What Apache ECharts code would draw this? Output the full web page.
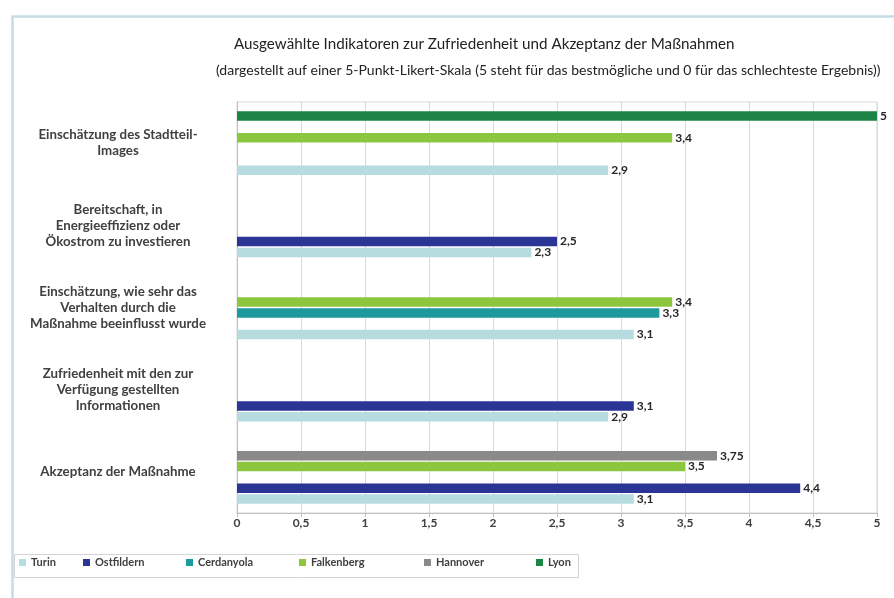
<!DOCTYPE html>
<html>
<head>
<meta charset="utf-8">
<script src="https://cdn.jsdelivr.net/npm/echarts@6/dist/echarts.min.js"></script>
<style>
  html, body { margin: 0; padding: 0; background: #fff; }
  #chart { width: 894px; height: 598px; }
</style>
</head>
<body>
<div id="chart"></div>
<script>
// Kategorien (von oben nach unten)
var categories = [
  'Einschätzung des Stadtteil-\nImages',
  'Bereitschaft, in\nEnergieeffizienz oder\nÖkostrom zu investieren',
  'Einschätzung, wie sehr das\nVerhalten durch die\nMaßnahme beeinflusst wurde',
  'Zufriedenheit mit den zur\nVerfügung gestellten\nInformationen',
  'Akzeptanz der Maßnahme'
]
var xTicks = [0, 0.5, 1, 1.5, 2, 2.5, 3, 3.5, 4, 4.5, 5]

var turin = [2.9, 2.3, 3.1, 2.9, 3.1]
var ostfildern = [null, 2.5, null, 3.1, 4.4]
var cerdanyola = [null, null, 3.3, null, null]
var falkenberg = [3.4, null, 3.4, null, 3.5]
var hannover = [null, null, null, null, 3.75]
var lyon = [5, null, null, null, null]

var seriesNames = ['Turin', 'Ostfildern', 'Cerdanyola', 'Falkenberg', 'Hannover', 'Lyon']
var seriesData = [turin, ostfildern, cerdanyola, falkenberg, hannover, lyon]
var colors = ['#b7dcdf', '#2b3596', '#1f9a9c', '#8cc63f', '#8a8a8a', '#1c8444']
var legendLeft = [19, 83, 186, 299, 424, 536]

function fmt (v) {
  return String(v).replace('.', ',')
}

var chart = echarts.init(document.getElementById('chart'))

// bei inverser y-Achse liegt die erste Reihe oben -> Lyon zuerst
var series = []
for (var i = seriesNames.length - 1; i >= 0; i--) {
  series.push({
    name: seriesNames[i],
    type: 'bar',
    data: seriesData[i],
    barWidth: 9.5,
    barGap: '14%',
    itemStyle: { color: colors[i] },
    label: {
      show: true,
      position: 'right',
      distance: 3,
      fontFamily: 'Lato',
      fontWeight: 'bold',
      fontSize: 12,
      color: '#262626',
      formatter: function (p) { return fmt(p.value) }
    }
  })
}

var legends = seriesNames.map(function (name, i) {
  return {
    data: [name],
    left: legendLeft[i],
    top: 557,
    padding: 0,
    icon: 'rect',
    itemWidth: 7,
    itemHeight: 7,
    itemGap: 4,
    textStyle: { fontFamily: 'Lato', fontWeight: 'bold', fontSize: 11, color: '#404040' }
  }
})

var option = {
  backgroundColor: '#fff',
  animation: false,
  title: [
    {
      text: 'Ausgewählte Indikatoren zur Zufriedenheit und Akzeptanz der Maßnahmen',
      left: 234,
      top: 37,
      padding: 0,
      textStyle: { fontFamily: 'Lato', fontWeight: 'normal', fontSize: 15.2, color: '#222' }
    },
    {
      text: '(dargestellt auf einer 5-Punkt-Likert-Skala (5 steht für das bestmögliche und 0 für das schlechteste Ergebnis))',
      left: 216,
      top: 63,
      padding: 0,
      textStyle: { fontFamily: 'Lato', fontWeight: 'normal', fontSize: 14, color: '#222' }
    }
  ],
  legend: legends,
  graphic: [
    {
      type: 'rect',
      left: 10,
      top: 14,
      shape: { width: 900, height: 600 },
      style: { fill: 'none', stroke: '#c7dbe5', lineWidth: 2.5 },
      silent: true
    },
    {
      type: 'rect',
      left: 12,
      top: 552,
      shape: { width: 564, height: 23 },
      style: { fill: 'none', stroke: '#d4d4d4', lineWidth: 1 },
      silent: true
    }
  ],
  grid: {
    left: 237,
    right: 17,
    top: 102,
    height: 411,
    show: true,
    borderColor: '#d9d9d9',
    borderWidth: 1
  },
  xAxis: {
    type: 'value',
    min: xTicks[0],
    max: xTicks[xTicks.length - 1],
    interval: xTicks[1] - xTicks[0],
    axisLine: { show: true, lineStyle: { color: '#bfbfbf' } },
    axisTick: { show: true, length: 4, lineStyle: { color: '#bfbfbf' } },
    splitLine: { show: true, lineStyle: { color: '#d9d9d9' } },
    axisLabel: {
      margin: 4,
      fontFamily: 'Lato',
      fontWeight: 'bold',
      fontSize: 12,
      color: '#404040',
      formatter: function (v) { return fmt(v) }
    }
  },
  yAxis: {
    type: 'category',
    data: categories,
    inverse: true,
    axisLine: { show: true, lineStyle: { color: '#bfbfbf' } },
    axisTick: { show: false },
    axisLabel: {
      align: 'center',
      margin: 119,
      lineHeight: 16,
      fontFamily: 'Lato',
      fontWeight: 'bold',
      fontSize: 13.3,
      color: '#404040'
    }
  },
  series: series
}

chart.setOption(option)
</script>
</body>
</html>
